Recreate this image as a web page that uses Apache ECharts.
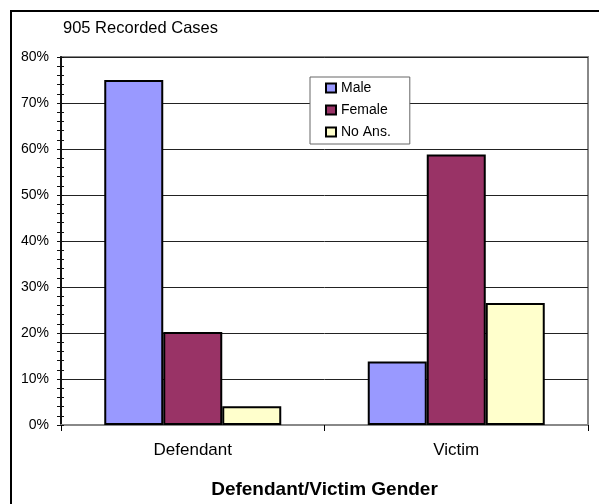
<!DOCTYPE html>
<html>
<head>
<meta charset="utf-8">
<script src="https://cdn.jsdelivr.net/npm/echarts@6/dist/echarts.min.js"></script>
<style>
  html, body { margin: 0; padding: 0; background: #fff; }
  #chart { width: 599px; height: 504px; }
</style>
</head>
<body>
<div id="chart"></div>
<script>
// Gender breakdown of defendants and victims (percent of recorded cases)
const categories = ['Defendant', 'Victim'];
const seriesNames = ['Male', 'Female', 'No Ans.'];
const maleValues = [75.0, 13.8];
const femaleValues = [20.2, 58.8];
const noAnsValues = [4.1, 26.5];
const yTicks = [0, 10, 20, 30, 40, 50, 60, 70, 80];

const colors = ['#9999FF', '#993366', '#FFFFCC'];
const font = '"Liberation Sans", Arial, sans-serif';

const chart = echarts.init(document.getElementById('chart'), null, { renderer: 'canvas' });

const valueSets = [maleValues, femaleValues, noAnsValues];

chart.setOption({
  animation: false,
  backgroundColor: '#fff',
  title: {
    text: '905 Recorded Cases',
    left: 58,
    top: 15,
    textStyle: { fontFamily: font, fontSize: 16.5, fontWeight: 'normal', color: '#000' }
  },
  legend: {
    orient: 'vertical',
    left: 310,
    top: 77,
    data: seriesNames,
    backgroundColor: '#fff',
    borderColor: '#666',
    borderWidth: 1,
    padding: [0, 19, 1, 15],
    itemWidth: 10,
    itemHeight: 9,
    itemGap: 0,
    icon: 'rect',
    itemStyle: { borderColor: '#000', borderWidth: 2 },
    textStyle: { fontFamily: font, fontSize: 14, lineHeight: 14, color: '#000', padding: [0, 0, 8, 0] }
  },
  grid: {
    left: 61,
    right: 11,
    top: 57,
    bottom: 77,
    show: true,
    borderColor: '#888',
    borderWidth: 2
  },
  xAxis: {
    type: 'category',
    data: categories,
    name: 'Defendant/Victim Gender',
    nameLocation: 'middle',
    nameGap: 55,
    nameTextStyle: { fontFamily: font, fontSize: 19, fontWeight: 'bold', color: '#000' },
    axisLine: { lineStyle: { color: '#888', width: 2 } },
    axisTick: { show: true, length: 6, lineStyle: { color: '#000', width: 1 } },
    axisLabel: { fontFamily: font, fontSize: 17, color: '#000', margin: 17 }
  },
  yAxis: [
    {
      type: 'value',
      min: yTicks[0],
      max: yTicks[yTicks.length - 1],
      interval: 10,
      axisLine: { show: true, lineStyle: { color: '#111', width: 2 } },
      axisTick: { show: true, length: 4, lineStyle: { color: '#111', width: 1 } },
      minorTick: { show: true, splitNumber: 5, length: 4, lineStyle: { color: '#111', width: 1 } },
      splitLine: { show: true, lineStyle: { color: '#222', width: 1 } },
      axisLabel: {
        fontFamily: font, fontSize: 14, color: '#000', margin: 12,
        padding: [0, 0, 10, 0],
        formatter: '{value}%'
      }
    },
    {
      type: 'value',
      position: 'left',
      min: yTicks[0],
      max: yTicks[yTicks.length - 1],
      interval: 10,
      axisLine: { show: false },
      axisTick: { show: true, inside: true, length: 3, lineStyle: { color: '#111', width: 1 } },
      minorTick: { show: true, splitNumber: 5, length: 3, lineStyle: { color: '#111', width: 1 } },
      splitLine: { show: false },
      axisLabel: { show: false }
    }
  ],
  graphic: [
    {
      type: 'rect',
      shape: { x: 11, y: 11, width: 620, height: 520 },
      style: { fill: 'none', stroke: '#000', lineWidth: 2 },
      z: 100
    }
  ],
  series: seriesNames.map((name, i) => ({
    name: name,
    type: 'bar',
    yAxisIndex: 0,
    data: valueSets[i],
    barWidth: 59,
    barGap: '0%',
    itemStyle: { color: colors[i], borderColor: '#000', borderWidth: 2 }
  }))
});
</script>
</body>
</html>
